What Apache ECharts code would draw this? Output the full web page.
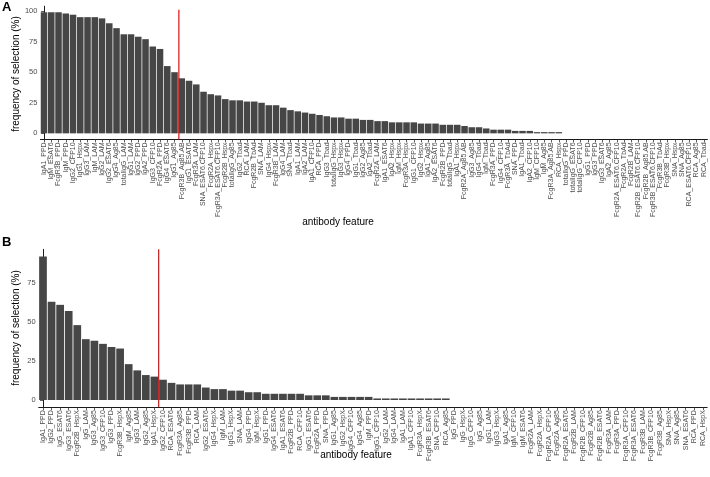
<!DOCTYPE html>
<html>
<head>
<meta charset="utf-8">
<script src="https://cdn.jsdelivr.net/npm/echarts@6/dist/echarts.min.js"></script>
<style>
html,body{margin:0;padding:0;background:#fff;}
#chart{width:710px;height:477px;}
</style>
</head>
<body>
<div id="chart"></div>
<script>
// ---------------- data ----------------
const featA = ["IgA1_PPD","IgM_ESAT6","FcgR3B_PPD","IgM_PPD","IgG2_CFP10","IgG1_Hspx","IgG3_LAM","IgM_LAM","IgG2_LAM","IgG2_ESAT6",
"IgG4_Ag85","totalIgG_LAM","IgG1_LAM","IgG2_PPD","IgA2_PPD","IgG3_CFP10","FcgR2A_PPD","IgG4_ESAT6","IgG1_Ag85","FcgR3B_Ag85.AB",
"IgG1_ESAT6","FcgR3A_LAM","SNA_ESAT6.CFP10","FcgR2A_Hspx","FcgR3A_ESAT6.CFP10","FcgR2B_Hspx","totalIgG_Ag85","IgG2_Tbad","RCA_LAM","FcgR2B_TbAd",
"SNA_LAM","IgG4_Hspx","FcgR3B_LAM","IgG4_LAM","SNA_Tbad","IgA1_LAM","IgA2_LAM","IgA1_CFP10","RCA_PPD","IgG3_Tbad",
"totalIgG_Hspx","IgG3_Hspx","IgG4_PPD","IgG1_Tbad","IgG2_Ag85","IgA2_Tbad","FcgR2A_LAM","IgA1_ESAT6","IgA2_Hspx","IgM_Hspx",
"FcgR3A_Hspx","IgG1_CFP10","IgG2_Hspx","IgA1_Ag85","IgA2_ESAT6","FcgR2B_PPD","totalIgG_Tbad","IgA1_Hspx","FcgR2A_Ag85.AB","IgG3_Ag85",
"IgG4_Tbad","IgM_Tbad","FcgR3A_PPD","IgG4_CFP10","FcgR3A_TbAd","SNA_PPD","IgA1_Tbad","IgA2_CFP10","IgM_CFP10","IgM_Ag85",
"FcgR3A_Ag85.AB","RCA_Hspx","totalIgG_PPD","totalIgG_ESAT6","totalIgG_CFP10","IgG1_PPD","IgG3_PPD","IgG3_ESAT6","IgA2_Ag85","FcgR2A_ESAT6.CFP10",
"FcgR2A_TbAd","FcgR2B_LAM","FcgR2B_ESAT6.CFP10","FcgR2B_Ag85.AB","FcgR3B_ESAT6.CFP10","FcgR3B_TbAd","FcgR3B_Hspx","SNA_Hspx","SNA_Ag85","RCA_ESAT6.CFP10",
"RCA_Ag85","RCA_Tbad"];
const valA = [99,99,99,98,97,95,95,95,94,90,
86,81,81,79,77,71,69,55,50,45,
43,40,34,32,31,28,27,27,26,26,
25,23,23,21,19,18,17,16,15,14,
13,13,12,12,11,11,10,10,9,9,
9,9,8,8,8,7,7,7,6,5,
5,4,3,3,3,2,2,2,1,1,
1,1,0,0,0,0,0,0,0,0,
0,0,0,0,0,0,0,0,0,0,
0,0];
const featB = ["IgA1_PPD","IgG2_PPD","IgG_ESAT6","IgG3_ESAT6","FcgR2B_HspX","IgG_LAM","IgG3_Ag85","IgG3_CFP10","IgG3_PPD","FcgR3B_HspX",
"IgM_Ag85","IgG3_LAM","IgG2_Ag85","IgA1_HspX","IgG2_CFP10","RCA_ESAT6","FcgR3A_Ag85","FcgR3B_PPD","RCA_LAM","IgG2_ESAT6",
"IgG4_HspX","IgM_LAM","IgG1_HspX","SNA_LAM","IgG4_PPD","IgM_HspX","IgG1_PPD","IgG4_ESAT6","IgA1_ESAT6","FcgR2B_PPD",
"RCA_CFP10","IgG1_ESAT6","FcgR2A_PPD","SNA_PPD","IgG1_Ag85","IgG2_HspX","IgG4_CFP10","IgG4_Ag85","IgM_PPD","IgG1_CFP10",
"IgG2_LAM","IgG4_LAM","IgA1_LAM","IgA1_CFP10","FcgR3A_HspX","FcgR3B_ESAT6","SNA_CFP10","RCA_Ag85","IgG_PPD","IgG_HspX",
"IgG_CFP10","IgG_Ag85","IgG1_LAM","IgG3_HspX","IgA1_Ag85","IgM_CFP10","IgM_ESAT6","FcgR2A_LAM","FcgR2A_HspX","FcgR2A_CFP10",
"FcgR2A_Ag85","FcgR2A_ESAT6","FcgR2B_LAM","FcgR2B_CFP10","FcgR2B_Ag85","FcgR2B_ESAT6","FcgR3A_LAM","FcgR3A_PPD","FcgR3A_CFP10","FcgR3A_ESAT6",
"FcgR3B_LAM","FcgR3B_CFP10","FcgR3B_Ag85","SNA_HspX","SNA_Ag85","SNA_ESAT6","RCA_PPD","RCA_HspX"];
const valB = [92,63,61,57,48,39,38,36,34,33,
23,19,16,15,13,11,10,10,10,8,
7,7,6,6,5,5,4,4,4,4,
4,3,3,3,2,2,2,2,2,1,
1,1,1,1,1,1,1,1,0,0,
0,0,0,0,0,0,0,0,0,0,
0,0,0,0,0,0,0,0,0,0,
0,0,0,0,0,0,0,0];
const ticksA = [0,25,50,75,100];
const ticksB = [0,25,50,75];
const cutA = 18.6;   // selection cut-off (category index position)
const cutB = 13.5;
// ---------------- chart ----------------
const FONT = "'Liberation Sans', Arial, Helvetica, sans-serif";
const yA = [-4.95, 103.95];
const yB = [-4.6, 96.6];
const chart = echarts.init(document.getElementById('chart'), null, {renderer:'canvas'});

function catAxis(grid, data){
  return {
    type:'category', gridIndex:grid, data:data, boundaryGap:true,
    axisLine:{show:true, onZero:false, lineStyle:{color:'#000', width:0.9}},
    axisTick:{show:true, alignWithLabel:true, interval:0, length:3, lineStyle:{color:'#333', width:0.8}},
    axisLabel:{interval:0, rotate:90, fontSize:7, color:'#4d4d4d', margin:3, fontFamily:FONT},
    splitLine:{show:false}
  };
}
function valAxis(grid, ext, ticks){
  return {
    type:'value', gridIndex:grid, min:ext[0], max:ext[1],
    axisLine:{show:true, lineStyle:{color:'#000', width:0.9}},
    axisTick:{show:true, length:3, customValues:ticks, lineStyle:{color:'#333', width:0.8}},
    axisLabel:{fontSize:7.5, color:'#4d4d4d', margin:3, fontFamily:FONT, customValues:ticks},
    splitLine:{show:false}
  };
}
const option = {
  animation:false,
  backgroundColor:'#fff',
  grid:[
    {left:40.4, top:6.2, width:92*7.25, height:133.2},
    {left:38.7, top:249.3, width:78*8.57, height:157.9}
  ],
  xAxis:[
    catAxis(0, featA),
    catAxis(1, featB),
    {type:'value', gridIndex:0, min:-0.5, max:featA.length-0.5, show:false},
    {type:'value', gridIndex:1, min:-0.5, max:featB.length-0.5, show:false}
  ],
  yAxis:[ valAxis(0, yA, ticksA), valAxis(1, yB, ticksB) ],
  series:[
    {type:'bar', xAxisIndex:0, yAxisIndex:0, data:valA, barWidth:'90%', itemStyle:{color:'#464646'}, silent:true},
    {type:'bar', xAxisIndex:1, yAxisIndex:1, data:valB, barWidth:'90%', itemStyle:{color:'#464646'}, silent:true},
    {type:'line', xAxisIndex:2, yAxisIndex:0, data:[[cutA, yA[0]],[cutA, 101]], symbol:'none', lineStyle:{color:'#ff0000', width:1.2}, silent:true, z:5},
    {type:'line', xAxisIndex:3, yAxisIndex:1, data:[[cutB, yB[0]],[cutB, yB[1]]], symbol:'none', lineStyle:{color:'#ff0000', width:1.2}, silent:true, z:5}
  ],
  graphic:[
    {type:'text', left:2, top:1, style:{text:'A', font:'bold 13px '+FONT, fill:'#000'}},
    {type:'text', left:2, top:236, style:{text:'B', font:'bold 13px '+FONT, fill:'#000'}},
    {type:'text', x:16, y:74, rotation:Math.PI/2, style:{text:'frequency of selection (%)', font:'10px '+FONT, fill:'#000', align:'center', verticalAlign:'middle'}},
    {type:'text', x:16, y:328, rotation:Math.PI/2, style:{text:'frequency of selection (%)', font:'10px '+FONT, fill:'#000', align:'center', verticalAlign:'middle'}},
    {type:'text', x:338, y:222, style:{text:'antibody feature', font:'10px '+FONT, fill:'#000', align:'center', verticalAlign:'middle'}},
    {type:'text', x:356, y:455, style:{text:'antibody feature', font:'10px '+FONT, fill:'#000', align:'center', verticalAlign:'middle'}}
  ]
};
chart.setOption(option);
</script>
</body>
</html>
